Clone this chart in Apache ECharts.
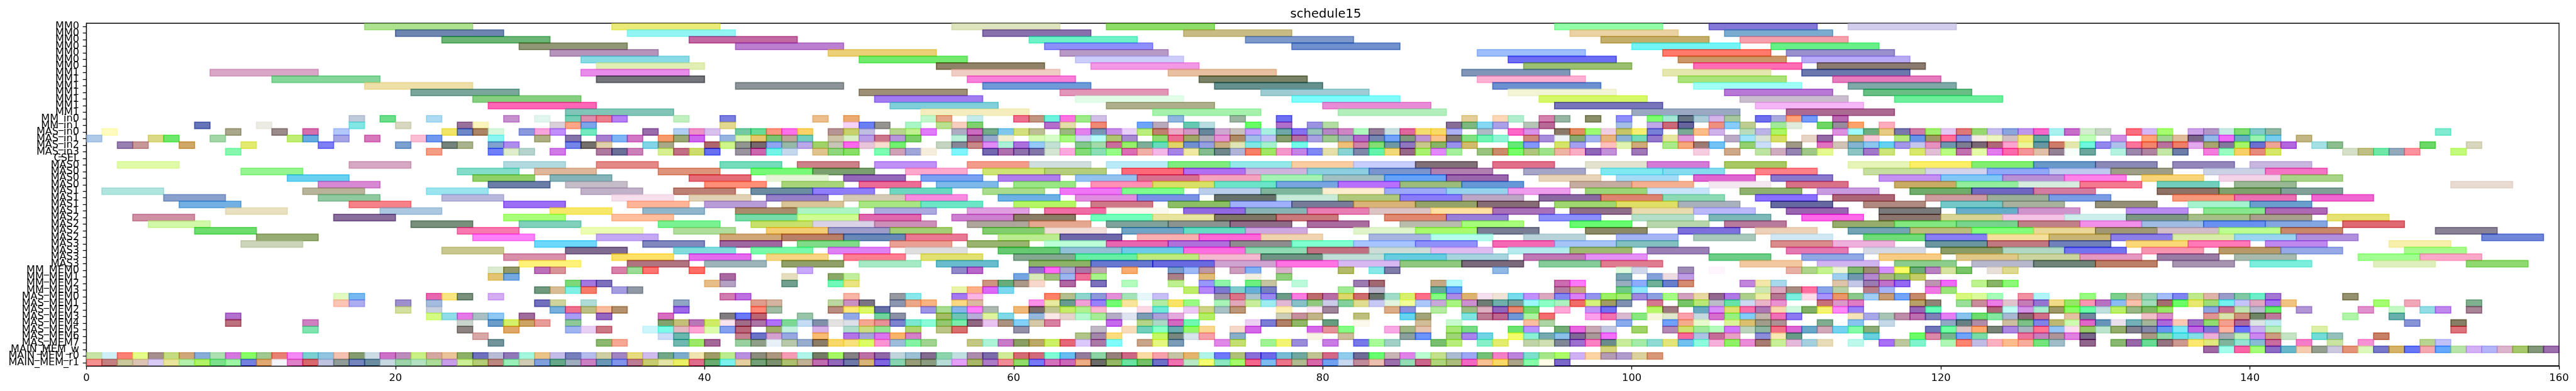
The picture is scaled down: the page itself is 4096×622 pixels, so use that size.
<!DOCTYPE html>
<html><head><meta charset="utf-8">
<style>html,body{margin:0;padding:0;background:#fff}#c{width:4096px;height:622px}</style>
<script src="https://cdn.jsdelivr.net/npm/echarts@6/dist/echarts.min.js"></script>
</head><body><div id="c"></div>
<script>
const chartTitle = 'schedule15';
const categories = ['MM0','MM0','MM0','MM0','MM0','MM0','MM0','MM1','MM1','MM1','MM1','MM1','MM1','MM1','MM_in0','MM_in1','MAS_in0','MAS_in1','MAS_in2','MAS_in3','CSEL','MAS0','MAS0','MAS0','MAS0','MAS1','MAS1','MAS1','MAS1','MAS2','MAS2','MAS2','MAS2','MAS3','MAS3','MAS3','MAS3','MM_MEM0','MM_MEM1','MM_MEM2','MM_MEM3','MAS_MEM0','MAS_MEM1','MAS_MEM2','MAS_MEM3','MAS_MEM4','MAS_MEM5','MAS_MEM6','MAS_MEM7','MAIN_MEM_w','MAIN_MEM_r0','MAIN_MEM_r1'];
const durations = [7,7,7,7,7,7,7,7,7,7,7,7,7,7,1,1,1,1,1,1,1,4,4,4,4,4,4,4,4,4,4,4,4,4,4,4,4,1,1,1,1,1,1,1,1,1,1,1,1,1,1,1];

const s00=[18,34,56,66,95,105,114];
const c00='AEE290 EAEA78 DDE4BE 8EDD68 90FFA8 8478D6 D2CDEA';
const s01=[20,35,58,71,96,106];
const c01='6F85B0 93F5F3 8770AB C8BC84 EBD2A2 7BABCF';
const s02=[23,39,61,75,98,107];
const c02='6BB577 C268A2 6EF2C8 7D99CC C4AE6C F5A0AB';
const s03=[28,42,62,78,100,109];
const c03='8F9775 BB80CF 8F8FFC 6F90CC 74F5F5 68F088';
const s04=[30,48,63,90,102,110];
const c04='B594BA EBD078 B79AC6 9DBDFB FF7A6A 9A90CE';
const s05=[32,50,64,92,103,111];
const c05='89DBE6 72EA6E CDCDFC 6E6EF5 CC9668 B8AAF5';
const s06=[33,55,65,93,104,112];
const c06='E0EEB4 8E8268 F298E5 9BBF70 FF6DB4 8A7A70';
const s07=[8,32,56,70,89,102,111];
const c07='D9A6C8 E98BE9 F0CDC4 E7C0A0 7F96B8 E5E8AE 6A78AE';
const s08=[12,33,57,72,90,103,113];
const c08='85D69A 75767C F780D9 7A8268 FFB0D2 ABE27A E47CBE';
const s09=[18,42,58,73,91,104,114];
const c09='EEDFA8 8D9497 6E9AD8 66908E 6C90D0 9FFFF6 7EA9A8';
const s10=[21,50,63,76,92,106,115];
const c10='7BA69C 9E9078 E196B8 9FCCD3 F3F3D6 B778D6 68BE84';
const s11=[25,51,64,78,94,107,117];
const c11='86CF80 A07CF0 E1FCE9 7EFBFB D6F865 C9BCCC 6CEE9A';
const s12=[26,52,66,80,95,108];
const c12='FF67B6 80CFDA AEAE8C E88CD6 7874BA F4B6F7';
const s13=[31,54,69,81,100,110];
const c13='80C4B6 F5EDBE A5F2AC B2EEBC 9AA8C2 AA6A92';
const s14=[17,19,22,27,29,31,32,33,34,38,41,47,49,54,55,57,60,61,62,63,64,65,70,74,77,89,91,92,94,95,97,99,101,102,103,104,105,106,108,109,110,111,113];
const c14='BFC9DA 6BDE8A ABDAF2 C690CE E0F5EE 78CDB5 DD8EAC EC7F8D B580F2 C0F0C0 7A7EDF EBBE8C EBAB70 C2F7CB E6A688 C4EBEC EE6E8E C19480 6DF2DE FE71E0 9CEA88 CFBFE6 8FB4DE 9BB5A0 6E6FF0 E2CE96 FDD7B6 B2EDCF D381AD 97B5A3 8A8F68 8E8EFA 7DFF70 A2E8D4 677585 ABCCD6 D4B4E8 A8C8A0 6F6FEE A9A9DE FFA27A 749AFA B860AE';
const s15=[7,11,17,20,24,25,30,31,32,41,49,50,51,53,55,56,57,62,63,65,68,69,71,72,75,77,79,80,88,89,90,91,93,94,99,101,102,103,105,106,107,109,110,112,113,114,116];
const c15='6474B8 ECEBE4 82E6E4 D8D7C0 99709A FAF4BC D8CFD8 FFA587 7BA4EA E2D890 F6D2F7 6A80F2 969490 AAF5C6 B8E08E F6CDBE 7ED070 B36ECB E3DEA8 F08874 6EA4FB B9A8BC 63C8B0 B8DDE0 66FF5A AE70C8 9A92E0 B3DDA2 876E96 7CB880 85D9F5 A9A0E6 B4C4B6 B76A96 A4BDE6 C0A8E8 CA6A78 5E5E9C EE9080 88CCFF BDCE90 A2E89A E0EBDC 6FD660 968C9C FFA36A FFADBE';
const s16=[1,9,12,14,16,23,24,25,26,28,29,30,32,36,38,39,40,42,43,44,45,46,48,49,50,52,53,54,56,57,58,59,60,61,63,64,65,66,67,68,69,70,71,72,73,74,75,76,77,78,79,80,81,82,83,84,85,86,87,88,90,92,93,95,96,97,98,99,100,101,103,104,105,107,108,109,113,114,115,116,117,118,119,120,121,122,123,124,125,126,127,128,129,130,132,133,134,136,137,138,139,140,141,152];
const c16='FFFBBE A9A78C 9A8C8A D570AC B2C7FC F0E566 6E88C8 AB8566 D6F7DC 8A99DE F7A3DC C08FFB 74E9C0 9A6CAC B0CDF2 EE90C8 D8C0EC 74CAA0 66DA96 FF9680 FE70EA FAD264 B79494 C8D06C C0BEE0 B5D68C C0F090 E07CF8 AEACC2 CB6CC0 73AA88 7EC8EE D4E080 BEBE94 9AB880 E280EC 7A94B4 C68CE6 E8D0F8 BCEE7C C08070 EAA8C6 D296C4 66869A CFA8D2 C8C0BC C49CFC A8F0E0 70A8AA 8670F0 98C4BE B387C4 CF84C4 AEF8BE 957C98 C9E0E0 E0609E F5DC70 FADA66 AEB0F5 ADBAC6 FF68C8 D890E8 8A7868 E28C5E 9CFB70 EECEE0 C6C668 F5EE74 7880D8 7CA898 FDBC88 D0B2EA B8DCBC BBB2E8 ACF558 DE90E0 A0FBFF 6EAE80 E6CC84 7878AC CC7CA6 A0F070 E4C6F2 E07878 98D870 C6BCEE 8AA4DE C096EC F558C8 A8F2F0 C86CCA D2EECC C8D6C6 FF6E7E D4B8F5 A5FF6E CCA2E8 B396C8 C8EAE4 7CDC70 80CACA 90B8A4 82EBD0';
const s17=[0,4,5,8,13,14,16,18,21,22,26,29,31,33,34,35,37,38,39,41,42,43,44,45,46,48,49,50,51,52,53,56,57,58,59,61,62,63,64,65,66,67,69,70,71,72,73,74,75,76,77,78,79,80,81,82,83,84,85,86,87,88,89,90,91,93,94,95,96,97,98,99,100,101,102,103,106,107,108,109,111,112,114,115,117,118,119,120,121,122,123,124,125,126,129,131,133,134,135,136,137,138,139,140,141,143];
const c17='AFC9E8 DBD986 6EE86A A4D7A8 C0ED74 68ADDF A6A6E4 D878BC FABDD4 7099EE 8AF5F3 AEAF82 8274A8 A67ED0 7DB4F6 D276C6 F69A6A 9AA874 CE66EE 96B4E0 D6F4B0 E6C86C 7CC472 BCA698 72CEBE CEC5A8 D8EEC4 BA9EE8 CC768C B896DC 7CCF68 B8F0D8 A06A98 96A8CC F0F0D0 D6FCB4 D6FCC8 A6FA80 D5D0F6 B8FCF8 AFC670 A78AD0 90DC70 EC6C92 A0A868 ACACB6 E590D4 AE8A64 A0BEE8 C0C0F5 889E6E B470A0 A8A0E0 9DC890 9DB0BC B268C8 7688B0 72A2FA 80987E C094D4 F8C48C 827A72 80E280 72F5B4 90F5D4 D08878 A88CDC EEF4F6 88AA70 A4B4EE E6B47C 8CB0D6 74DCB8 9478CC E6E6A0 E098DC BAAAC6 9FE4FB D8E4D6 D6DE64 E8D4C4 9468A4 BBB06A F6C8D8 B5EA78 6494E6 A09A66 FF6E9A 8A8EDC F4ECE6 ECF6BE D0C0C4 F5E878 62AAA4 C0FFB8 D08CE2 FFA27A A0D490 E0BC9C 7C6488 94B8E8 EE6CF6 68ACC0 98F2B0 78CCEC C2B684';
const s18=[2,3,6,10,15,20,23,24,26,27,31,32,33,36,37,40,41,42,43,44,45,46,47,48,49,50,51,52,55,56,57,58,59,60,61,62,64,65,66,67,68,69,70,71,72,73,74,75,76,78,81,82,83,84,85,86,87,88,89,92,93,95,96,98,99,100,102,103,104,105,107,108,110,112,113,114,115,116,117,118,119,120,121,122,123,124,125,126,127,128,129,130,131,132,133,134,135,136,137,138,139,140,141,142,144,145,151,154];
const c18='9880B0 C89898 D0A868 E2EA70 7E7EF5 7CA0D0 74847C AAB48C 80A0D0 AE8CEA 7486E8 76706C E0CFA8 82D4E6 A6A888 AE606E CEF68A 929692 76686E 8EA6F2 96B8A8 BAA8E8 A0D268 C6C4B4 FC68EC E6C6D8 F8DDD0 72F070 C4D4C0 868698 C88888 E08AF6 ABF2D8 AC70DC 96C8FC C2E0D4 84C88E A4DAAA CC6C9C 98F06A 7FAE98 64DCBC E0D468 7090CE 96A0E0 C8AD80 E0E6B8 80E8E4 A4F0CC 74FDE8 EEC07A CE84A8 82DE74 7098A4 9078C0 C8C88A 88B468 9A90EE D0BC6C 62E878 8296FC D4E468 A4A0F0 FFC0BC E2F4B2 CFAA78 ABEA88 F6A87C 9E7A74 72C2F5 94D070 CADEFC 9E9884 E070C0 D0C2B4 84B4D0 8AC6EE 64D0F0 A496E8 C4C6EE E690C0 6E96AC 7E7C90 7A6876 B06878 FBA4D0 ECF59A 6098A4 CE7C6A E4E6AC 70F6DC 9488EE AFC0EC FF7498 F2856C B8709C EE7E66 E4A8EC A8A670 84789C A6F660 6C70D0 EEA494 B468E0 A4E0E4 8CBE90 6CD868 D8D6BC';
const s19=[9,22,26,27,28,30,33,34,35,37,38,39,40,42,43,44,45,47,48,49,51,52,53,54,56,58,59,60,61,62,63,64,65,66,67,68,69,70,71,72,73,74,75,76,77,78,79,80,81,82,83,84,85,86,87,88,90,91,92,93,94,95,96,97,98,100,104,106,108,109,110,111,112,114,115,116,118,119,120,121,122,123,124,125,126,127,128,129,131,132,133,134,135,137,138,139,140,141,146,147,148,149,150,153];
const c19='88F8B0 F49C84 7080FC DEEECA B6D4CE D07AE8 AE7AA0 6C7098 CC80BA D6F090 C26E84 CEDC6E 6670F0 9A94A0 CC60AE 72F5E6 C4D8EE E0C490 90D880 88E068 7CFFB0 D0A0B8 A0A6D8 F6EEDC 7FF5FD 7468B0 B070B0 8E70AC 8276A8 D4E6D2 FFA8E0 84DC78 8CDEB6 96FF88 DC6CB4 F0B0A8 F4B8E8 A684E6 EFE8A0 84BC90 70888C B0B4D8 F88068 A2E660 F498CC C484E6 8088F5 E4E0A8 8AD4D6 8088AA 62F4AC F0D878 976888 A8F270 E288FE A4F09C 98C480 CC8C6C 78FF6A AEC67E A0E28C EEB4A4 FBAEC4 9066B8 C490DA A078B8 F6CCE0 CEA888 BEE4A2 D0ACC0 9484B4 A0C888 E4FA90 8EC4C4 A478C8 CCE47A D8E86C DFBED6 B8FC84 C070AC E4FCA8 E27CEE FF68AA F49498 E0C0A8 948294 F8FEFA 6CA69C B4F2E0 9C88AC B084A0 C4E6A6 6E7EA8 F47CDE 98FFC0 F8D068 E68A7C D6E660 D6E0C8 C0C084 72E8A8 92AABC FF929C C4FA7C';
const s20=[];
const c20='';
const s21=[2,17,27,33,41,46,51,57,61,66,70,74,78,82,86,91,97,101,106,114,118,122,126,130,135,140];
const c21='E0FAA8 D7A8C2 B0DAE0 E38A86 74DCBA CC8288 C090F6 F49C8C D0DEDE BAEAF5 80EC80 94E8E8 FACDA0 C8CEFC 827078 E0708C E2E2CE D27CD8 A8C860 E6F4B8 FCEE60 82EE70 6898C8 8A88B4 9488BA C8B6E0';
const s22=[10,24,29,37,43,47,53,58,62,67,71,75,79,83,87,93,98,102,108,115,119,123,127,131,137,141];
const c22='96F58E 84DDC8 DEB69A DE947A 78FA78 7AA070 FFA8CE CEE474 B6CE7C FF6878 B06EF0 CFB4DC 8CCEE0 7A94D0 B080B0 A5A5C8 80E8F0 84DCEE FF8088 C6DEA0 D2D2EC 90A8FA C0CAF0 9F9F88 CCD2E6 F274C2';
const s23=[13,25,30,39,44,49,54,59,64,68,72,76,80,84,88,94,99,104,109,116,120,124,128,133,138,142];
const c23='6AD0F0 90D068 84B4BA E46C78 E6F4D6 9468B8 7AA0F0 B07EEC 94C2F0 D87090 F5A4C0 A4F2B4 A0C0C4 66A2F8 9A64AC E8D4B8 A4DCF6 DE64D0 8A78CC C490F2 82C6F6 B890D6 FF80E8 F7D478 F2D2E6 A8D488';
const s24=[15,26,31,40,45,50,55,60,65,69,73,77,81,85,89,96,100,105,110,117,121,125,129,134,139,153];
const c24='D688D2 6A7EA8 C4BDC8 FF8E76 A8D47C EC6C96 7EB8E8 98E684 FF90B4 D8E066 6CE4C8 78A4E0 B870FC 9CBC7C 6498D8 C4ACA0 F4B090 F4E8F0 D87088 C8AC66 92EE9C D6ECDE F47890 72CEBC 98B894 E8DBD2';
const s25=[1,14,22,32,38,43,47,52,58,63,67,72,76,80,84,88,92,97,101,107,112,118,122,126,134,138,142];
const c25='B0E4DE B8B49A 9AE4F0 C0B0C8 BC8074 6C8CA2 8E7EFA 6CD8C0 A8DC8C F076F8 7CFF8C BACDEA 80B49C FEEED0 9CA8FA 98D2EC EE9CEC 9CD478 C8E4FA 90B270 C89AE0 70AC6C 7068C0 D47CA0 8E7264 7EA06C 80A098';
const s26=[5,15,23,34,39,44,49,53,59,64,68,73,77,81,85,89,94,98,102,108,113,119,123,127,135,139,144];
const c26='8AA0CC 90C8A0 B8B8DC F6DEEC E0D0B4 9480C6 D4CAB4 F88AE0 6CB0E4 E08AE0 7A90E4 66706A C8EAD8 B0C87C 8A7CF8 BCA6C6 8A68A0 DC8470 8CDAB4 8A70FE AC5E78 CC9CA0 9AAE9A 7A9CE4 F8987A EA70B4 F064D0';
const s27=[6,17,27,35,40,45,50,54,60,65,70,74,78,82,86,90,95,99,103,109,115,120,124,130,136,140];
const c27='72AFE2 F58288 9C6EF4 FFB498 B89CD8 D8C498 A8E684 6CE6C4 B4F664 CE7888 8CBE64 A0B0FA 787C98 D8B478 94A468 866C74 A0D670 DEDE68 A8B0BC 6068A0 B08A80 74C8C8 A8B09E 949078 A4F2CE 6A9ECC';
const s28=[9,19,30,36,42,46,51,57,62,66,71,75,79,83,87,91,96,100,104,110,116,121,125,132,137,141];
const c28='E8E0C0 ACC8E0 F8E86A 90B6CC A88C6C AEF4C4 ACA8E0 E09FE0 F06CA4 FAF8EC 9068E0 8AB4B4 E87EB4 DCC4C4 FFE0A0 A870B8 906E8A E8DCAE BCB8FC 9860B0 7A7A7A 68AEC8 D094CC B88CF0 88E68E AE68B4';
const s29=[3,16,27,34,42,46,50,56,60,65,69,73,77,84,88,94,100,105,111,116,120,124,128,132,136,140,145];
const c29='D090A4 8A6E9C AAFF7A FFBE9C 78DCA8 D0FC94 E068AC CE80D0 8A7C60 72FFBC E8E4A0 807668 CA7A7C E08870 9880D8 8C90FC B4E0CA 7CB8B8 FF68E8 8A766E D8D498 F4C4E4 CEEEEC 7E9684 A6BE88 A8A08C E6E274';
const s30=[4,21,28,37,43,47,51,57,61,66,70,74,79,85,89,96,101,106,113,117,121,125,129,133,137,141,146];
const c30='D0F8A8 78907C 80D0BC 7AF292 C8E06C DAD2E6 CC90B8 ACA69C E4A890 80A29C 8A9490 8E6C88 AA6C9E B8BCAC A8FC7C 68FA70 B8D6AC B87A9C 96AC6C 84E680 78D48C C08088 F090E8 A0BCE0 6890F0 84A6E0 E06A74';
const s31=[7,24,32,38,44,48,52,58,62,67,71,75,82,86,90,97,103,108,114,118,122,126,130,134,138,142,152];
const c31='6FDC6F F878B0 ECFCB0 B0DC9C F4CC74 9C9CC8 A4CE74 84CC70 F2DED8 70A4C4 66DCC4 D0A8E0 E0F4CC A8FA6C 7A7E94 8C8A66 7E70DC ECD0B8 74A4B4 BCBC7E 84FF7C EAD898 A09874 D2BCC8 BCFC90 C8866A 8A8296';
const s32=[11,25,33,41,45,49,53,59,63,68,72,76,83,87,93,99,104,109,115,119,123,127,131,135,139,143,155];
const c32='96AC72 FE80FA C4A8F4 D0A878 B88068 6888B8 E87894 BCEC90 6E68AA FAB0B0 FF68D8 F0D4B0 A8B4E0 B4FCEC B8D2DA A4B4F4 A8C8BC D0E8F4 70DC78 8A7EF4 F2E09C C8B474 8C80E8 D8EEA8 9AD4F0 B090DC 7086D8';
const s33=[10,29,36,41,46,52,57,62,66,70,74,78,82,86,91,95,99,109,113,119,123,127,132,136,141,149];
const c33='CCD4BA 6ED8FA 8088BE A068A0 80DC88 EAA094 98B470 BCFED8 E866B0 B070DC 8E8C8E 80FFD0 A8C4FF 9090FA F468B4 A6C4F6 84C0C0 DA8C8C EEB0DC 6A96A0 C27880 7080B8 FAD878 FF78B8 BE88EE F6F0AC';
const s34=[23,31,38,43,48,53,59,63,67,71,75,79,83,87,92,96,101,110,115,120,124,128,133,138,142,150];
const c34='C8C890 806C90 82DCDE 78FAAA E080F5 DEDEDE 60C870 92C0D4 6CCCE8 FF6EE0 90DAB4 C07080 CCDCD6 DEBCF0 B4ECEE A0B870 9A80B4 E478B0 D4D8E4 8C9C64 B0D8C4 7474F0 F894B0 B89A68 96A8E6 A6FB8C';
const s35=[27,34,39,44,49,54,60,64,68,72,76,80,84,88,93,97,105,111,116,121,125,129,134,139,147,151];
const c35='D890AA FDE060 E46AEE F6D684 FF7E92 E2E070 84A890 64EEA4 BEEA80 F4B8D0 709484 C0E0D8 68CCE0 A8D4E0 C078B4 E490F5 6CCC88 90A8E4 F8CC84 E0C888 CCD4A0 E498C0 9A7CA4 A8BAAE A0FF90 FCA8C8';
const s36=[28,35,40,45,50,55,61,65,69,73,77,81,85,89,94,98,107,112,117,122,126,130,135,140,148,154];
const c36='FFF27A B07480 9CB4BA 90A068 A4EAC4 68BCCC 8CB468 6878D0 6A6AE0 D0A4D0 FF74E2 D8B8F0 90C880 7A6A7C 84CC9A E07C90 F2C8A0 D0B4F0 8CCC8C B8B8CC 70847A BC8068 A694B0 7CEEDC E0F0BC 90D870';
const s37=[26,27,29,30,34,35,36,39,46,56,57,61,62,63,64,65,67,70,71,72,74,75,77,81,83,84,91,99,100,103,105,110,111,112,113,114,115,116,117,118,119,120,121,123,124];
const c37='DCEAD0 929868 BC70BA D89498 D880A8 9ADC96 FF7470 FF6E66 C8A8FC 9088C8 B866C8 9070CC FE68F4 AEA8D0 AC74A4 C2A8B0 F8AC70 7A9CC8 9CB8F5 BC98A4 CC9CBC 80B2F5 D8B0C8 B2BC68 88EAE8 807EA8 90B8E4 DEFADC CFD8EA 9E8CB4 FEF6FC E8B0A4 AED48C C4F390 ECF6D6 80B870 9A8C70 D490FC FCFC50 6CAC78 B880C0 D4E4A0 78C464 E8E0D8 DEDA90';
const s38=[26,27,41,45,48,49,60,61,62,63,64,65,70,72,75,77,99,101,102,103,113,114,115,116,117,118];
const c38='E2C472 74A8E0 A868A0 E4DEBE 8AA868 C0EE9C 74A4E2 D8EAB8 A0BE80 9CB6F0 EE7098 A8F488 AA8088 E0BC78 F2EEE2 90D07C 78A4B4 84A0D8 ECDCE2 BE9CE4 A0D0F0 7098AC B488CE A8B87C 94C470 C4CC68';
const s39=[31,32,33,40,41,45,48,49,58,59,60,61,63,65,67,70,72,73,75,76,78,82,83,87,88,95,96,99,100,101,102,103,107,108,109,113,114,115,116,117,119,120,122,123,124];
const c39='7CD878 A278DE 7C70BC E8BE88 B4A0C0 72A090 70F8B8 EAE480 CE9480 68AC7C AC9888 F8D8CC B060A0 7C70BC B4FBBE BEF090 9898FC 90F4A8 6CF080 C4C4A0 BCFADC 9C7CB0 A06870 C4A884 B0F8FC CC6CB0 FC78F8 98AEC0 8CACFC 70B098 6880CC D48C70 C084DC F2E6A8 A8D8EC E0C4A8 C4C8E8 9A7CB0 C070C8 9468F4 BC94B0 F068F8 BEF490 88B468 8CF878';
const s40=[29,30,31,32,34,35,56,57,58,59,71,72,73,74,75,76,81,83,87,88,95,96,99,100,108,109,110,111,112,113,115,116,119,120];
const c40='70987E D8BC94 7EF0E4 F47C68 A49CE0 9098A4 EAF4A8 FFB088 DC68F8 7CD8EE BEEE68 B488FC 7C78D0 80CCCC 60B0D8 7880C4 A0EA94 B8B4C8 68A89C 60A4FC B47CA0 C8A484 70CC84 90E4FA CCE8B0 DCA8C0 A88C80 FF70A0 88A4E8 B8D0A8 B88088 A4B4F4 F078E4 98E478';
const s41=[16,17,22,23,24,26,41,42,49,52,53,56,57,62,63,64,65,66,67,68,69,73,74,75,76,77,78,79,80,81,82,83,84,85,86,87,88,89,90,91,92,93,94,95,96,97,98,99,100,101,102,103,104,105,106,107,108,109,110,111,112,113,114,115,116,117,118,121,122,123,125,126,129,131,132,133,134,135,136,137,138,139,140,141,146];
const c41='E0FAC0 78B8F0 E868B0 FAE680 78907C D4ACF4 D07CB0 BE70E0 F8B4A4 969AA0 88E8EC A478F0 FAB4E4 FF8068 B4BE8C 8CD4CC 8C98D8 E490D8 A4E2B8 E6F8FA C8BEF6 A096AA DC7488 ACC4CC 9A88F0 6C9C88 FA7CE0 BC6C6C B86CA4 DCD86C CC6C6C 667068 A0DCC8 D8F06C FF7088 84FF84 AA8CE4 DCB470 F4E0EE F0E4D6 78DCEC C090FC DCA8C0 8288F0 D880F4 9494EE 9CF060 A4EA74 A088DC 8CA0E0 A4FC84 D4A0C0 E8D8A4 906890 B078E4 ACD08C ECEEA8 B47890 7CF0E0 FCDCE8 A894FC EA9666 8CC88C A0CEF8 C89C74 74A4FA C68A6C D8F880 DCFC9C A4FEB8 F090A0 B0F6F8 98FC80 7CD08C C8B8A0 98D0B8 A4BCF8 7E84F0 BEEA8C DEB4A8 9A9CC8 80C8A4 6EEEC8 A478D2 949070';
const s42=[16,17,20,22,29,30,32,38,43,44,48,49,50,52,53,54,56,57,61,62,63,64,65,66,67,69,70,71,73,74,75,76,77,78,79,80,81,82,83,84,85,86,87,88,89,90,91,92,93,94,95,96,97,98,99,101,103,104,105,106,107,108,109,112,113,114,118,119,121,122,123,124,125,126,127,128,129,130,131,132,133,134,135,136,137,138,139,140,141,142,148,150,154];
const c42='FBC4B4 ACACF0 9E90CC A4BCE0 7270BC CED49C AEDDD8 90A4C4 DE9C8C D4B4A0 BCD6A0 C890C0 7A7484 8C94B0 EBA888 F8B480 FCD880 DCB8A0 FC90E8 E8EAA0 689C90 F0A0D4 9680FC 74FB74 F8E49C B0ECA4 F8E468 98FC84 A8F4B8 E0A8B8 C8EE9C 9CECF0 E0B8D4 88C0C8 90C880 CCCCE8 84D09C E0DC90 C8C8F4 E0F4E0 F0FE98 ACC8F8 C8A8D8 A8F480 CC90D0 6E7C74 70B0AC 7CA09C 9CF8F8 8CFFC4 ABF2C0 F06C64 D4F27C A09C60 8090B0 D47890 78C468 B8E878 BCBCC8 66E4A8 CCD8F0 EAB4C8 E890D0 C87078 DC98C8 E07CC4 B8A068 908478 98E098 C88C9C EC7CE8 E0C4CC C47CB4 9474D0 F0DC88 94E860 FC94B4 B870C0 8CBCF4 FCC0AC A0DCB8 A46C6C 6CFC60 E8E870 A0DC78 74F0F0 C4C4FC E0A8C0 A470F0 F0C480 A4FC70 F0A8B8 80B090';
const s43=[20,22,30,31,32,33,34,38,43,44,48,49,50,51,54,55,56,57,58,60,61,62,63,64,65,68,69,71,72,73,74,77,79,80,84,85,87,89,90,91,92,93,95,97,98,101,102,104,105,106,107,108,109,110,111,112,113,114,118,119,123,124,125,126,127,128,129,130,131,132,133,134,137,138,139,140,141,143,147,149,151,152,154];
const c43='D4E0A0 C8D0E0 78B0DC EE7090 BCBE84 F8BC9C B49270 9C68E8 FF8878 A0BCA4 B88C80 FCE878 DCF868 6870A8 9C94E4 A8DC90 88B4EC FE80FA ACB8B0 F0B878 7C6C6C C0C490 C4EC68 B0F090 FCB8D0 FAD8E4 70E8D8 ECC8F4 CCD484 A8C0C4 BC9878 FDEEB4 F8E4F4 A08498 DCAC88 8C90DC B4ECA0 9CBC84 DCB0C0 9060BC E88870 78D870 FFA8D8 C094F8 7070F0 B8F868 A07880 68A8C0 D890F8 DEE070 F870A8 AC78B4 F8D8B0 D0F8E0 80B068 F4F470 FF88F8 9C84F8 9460B4 68FFB8 AC6478 C0FCF4 D494E8 A8ECD0 9C9868 8CFC5C 68FCA4 C0E0E0 BCF060 98B888 80B868 98E858 8CA4E0 C87094 C0E4B0 B8B8CC 68EC6C B094D4 E090CC C4F8C4 94DCE4 C088EC A88498';
const s44=[9,22,23,24,25,26,28,31,33,37,41,42,43,46,49,51,52,55,56,57,58,59,61,62,63,64,65,66,67,68,69,70,72,77,78,79,82,85,86,89,90,91,92,93,94,97,98,99,100,101,102,103,104,105,106,107,108,109,110,114,115,116,117,118,119,120,121,122,123,124,125,126,128,129,133,134,137,138,139,140,141,146,149];
const c44='B070CC D4FC84 90DCE8 E678E8 A8C0C4 90C8F4 A06C9C A89CF4 9468C0 D86CC0 807C80 6A78FC BC6474 98C4A8 90A8E8 70D49C 8C90A4 A4BC64 70C4B4 B8ACD8 E0F4A0 80D8E8 94B8DC F8E8E8 E4D4CC B4F8D0 A8EC98 B4ACC4 E0E4F0 7C9CB4 ACA0D8 E4AADC B4F060 CCCEB8 C4909C C0B488 BCC07C 64D4F0 A4A47C 80E4E0 BC7C94 BC6490 7098D4 ACF4A0 F26C70 FCA0EC F070B0 D8B8D0 88E880 F6F6DC E0E8CC FCA0AC C4D8E0 D470CC 98F080 84CCF8 C4B4AC F070B8 8C78F0 F4E4B8 A8A8E8 A8C4B4 BC8CA8 BC70B0 8080B8 E480F4 88C4EC 6CDC6C 84E8A0 A8B8D0 8C6874 D07088 E4C0A0 7088A0 F0C0C8 DC8CC8 E09494 D8E4AC D09080 708464 BC7898 B0F4A8 68B0AC';
const s45=[9,14,24,26,27,28,29,31,37,38,39,40,41,42,43,44,45,46,47,48,49,50,51,52,53,54,55,56,57,58,59,60,61,62,66,68,69,70,71,75,76,77,78,80,82,86,88,93,94,99,102,103,104,106,107,108,109,112,114,116,120,121,122,124,125,126,127,128,129,130,131,132,133,134,135,136,137,138,139,140,141,150,153];
const c45='BC7080 CE80C0 C8D4CC 6C9CC8 D4F068 CCA464 E89C98 8CC898 82A46C C4C07C B878B8 D0EC58 F8E4EE A06C88 AC74A4 B070FC 7CD894 C4DCF4 8090A8 E4E2E0 DCE0E8 F4A890 E89098 7C84D0 7CE8D0 8CFBD8 94C870 7CECAC 906880 EAC4F0 AC9480 80D0F8 D4C8A8 D880A0 C468EC B4D488 ACD8C8 D468C0 70F8B0 ECD0F4 7C7CD4 B08068 90B868 689C80 FBF8EC D0BC98 C8FAD0 FCBCA0 ACD4A4 88ACEC 70A0FC F4AC8C E8FACC DCF498 DCC070 A09C8C AC9094 80AC90 88C4F0 C4D8E8 90A8C4 648084 B08CA8 CCBCA0 7CC088 8084E8 BCB874 CCFCB0 E064C8 6094B8 E8E0EC 74B0B8 A4B498 AC68D8 FCC8B4 A070C8 90DC70 F4A090 AC6898 DCE4E4 BCECF0 8894D8 887E60';
const s46=[14,24,27,31,32,33,36,37,38,39,40,41,42,44,45,47,49,50,51,53,55,56,60,65,67,68,69,70,71,72,74,75,79,80,81,84,85,86,88,89,92,93,95,96,97,98,100,102,103,104,105,106,107,108,109,110,111,112,113,114,115,119,120,121,122,123,124,125,126,127,128,129,130,131,132,133,134,135,136,137,138,139,140,141,144,153];
const c46='80E4B0 8C8480 E0A868 A0B4F0 E8D0F4 CC7884 CCF6FC 7CFBE8 E4B8C0 FCA4D4 DCFCAC 84A0EE B86878 A0AE68 C4F0E0 D8B0E8 B0DCCC CCDC80 94E494 B0D470 BCC488 D87070 9490A8 C0B8C4 F8DCB8 70D0BC 8CFFC8 68ACB0 94F864 F8D890 F4D8C8 D468E8 D468E8 E49498 84FC84 F8A8E4 A0B884 E4C4B0 A8E878 78DC84 6CE470 B894FC 70AC74 E864E0 C8A8B4 C4C8E0 A0D468 B488B4 D0E070 A0E89C B4FABC D078F8 BCD4BC 8CB4A0 F07088 DC64D4 68A8C8 D0A8B8 74D4F0 84FCA8 8CAC78 7074B8 70FFA0 DCC4C4 FFA870 788478 AC88E0 A8B4C0 FF7490 94C4F4 FCDCF0 94C868 BCE4CC 94AC6C 848090 8488A8 6898F0 80E8F4 C068E4 8078D8 FCB4A0 6C74F8 C8B0F0 B8ECB8 DCF0A8 DC747C';
const s47=[25,37,38,42,43,44,45,47,49,50,51,52,53,64,65,66,69,70,71,72,74,79,81,85,86,88,89,90,92,93,94,95,96,97,98,103,104,105,106,108,109,110,115,118,119,120,121,122,125,126,127,128,129,133,134,135,136,137,138,139,140,141,142,144,145,148];
const c47='D8A8A8 CCDCF8 68B8B0 C48090 6C74C8 D4A0D0 98A8E0 FABC70 B474E8 A4A4D8 DC74F0 F8B468 D480C8 B0C488 A488AC FCDC7C C4F860 788880 D8E4EC F8A0A8 88AEC8 F8F4E4 CCBC9C 8CA0A0 6C94FC A0D478 A884EC 70D4E4 F4FC6C 8CF0D4 74AAB0 8CC0E8 806898 A89898 F470FC F8689C ACC4E4 C46C98 E8A0C4 8C8CD8 F8E8B4 689C88 68D0DC 6CFC60 DC88A8 78B490 70A4FC 78DCA4 EC749C C480BC AC9498 E080E0 786088 A89884 8CDCA8 68E4E8 84E0E4 ECB0D8 A4ACB4 C0F0B8 CC88F0 CC9C80 C4E4C4 74DCD8 94C0BC C88058';
const s48=[26,33,34,38,39,40,42,43,44,45,46,47,48,49,50,51,52,53,54,57,58,59,60,61,62,63,64,65,66,68,69,70,73,74,76,77,78,80,82,83,84,87,88,90,91,93,94,95,96,97,98,99,100,101,102,103,104,105,106,107,108,109,110,111,112,114,116,117,118,120,121,122,123,124,125,126,127,129,131,132,133,134,135,136,137,138,139,140,141,143,145,147,151,152];
const c48='74949C 8CB870 F4A894 70B8B0 9CE868 A46898 98D0A0 90A088 E8F0F8 B8C8A8 98ACD0 8C7C68 F8D868 F8E07C DCFC60 FC94D4 9CBCDC 84F4A4 A0D490 C4C884 ACF4D8 C87CC8 8CA064 BCA868 CCF060 E46878 DCC8FC AC78A8 80FCFC C8A488 E4F880 7C9CB8 E088E8 C4E070 A0F494 F4F474 9C8CDC C87CE4 7878E8 A8FC98 A0D0C8 78C070 B8EC7C 88F0C8 E4EC70 C0D4A8 D0E0B4 808898 9C70CC FC80C4 6C8C8C C8EC9C A4ECA8 90DCD4 E4E47C 70C0F0 8CFCDC F4B0D8 90F060 E88CD8 A87C70 C8F098 E4B8D8 A4D0E0 E8DCB8 BCF8EC A870F4 BCC89C 80F4CC B0F6B4 FF8470 C0BCE4 FCB0C0 FCBC8C F8AC9C 74E47C A0BCC8 90648C 88B870 9868A8 68DC94 947480 CC9890 FCE870 E0E880 80B49C 94E4D4 88BCD4 C86CA0 F47CC8 C8E4A0 F890D4 B8D490 C0C0FC';
const s49=[98,137,138,139,140,141,142,143,144,145,146,147,148,149,150,151,152,153,154,155,156,157,158,159];
const c49='D4D47C A068A4 A4FCEC F864A8 A4FC78 8C6CC4 68B8CC F4CCB0 94A090 CCC8E0 E49478 DCF8BC 7878C8 D4B468 6478F4 F4A8B0 64A8FC B8E4A8 D4B0F4 B4B4F8 DCB4CC A8C86C 84987C 9C70AC';
const s50=[0,1,2,3,4,5,6,7,8,9,10,11,12,13,14,15,16,17,18,19,20,21,22,23,24,25,26,27,28,29,30,31,32,33,34,35,36,37,38,39,40,41,42,43,44,45,46,47,48,49,50,51,52,53,54,55,56,57,58,59,60,61,62,63,64,65,66,67,68,69,70,71,72,73,74,75,76,77,78,79,80,81,82,83,84,85,86,87,88,89,90,91,92,93,94,95,96,97,98,99,100,101];
const c50='C8E4A4 D0F0F8 FF8074 E4FC88 A68E8E C4DC80 CEA878 88ACD8 ACE0B0 D478E0 88FE60 A0C890 E88074 F488F4 7CD0D0 90C4E0 F4C0B0 849C70 CCDCE4 CC70C8 BC8CBC C8F084 D4A8A0 E8C498 8CB068 7070BC B8BCD4 9078B8 A4F6DC E8C488 C4BCE8 7880BC B4BCEC CECEA4 A084C4 E6DC7C D0BCEC 70A888 7CACCC F0E4B0 A09C68 BCEC90 B890E0 8C8C7C AC9880 F49CB4 B0F4E8 747C60 A4F860 848084 BC70A4 9068A8 C0D4DC 9CC0D4 846C90 8CD4AC C0E0E0 AC8CAC 7C6CAC D0EC98 D46C74 D06C7C 80FCD4 68BCF0 947C9C 8CD4A4 98807C CC6884 F8DCA4 F8A0AC C4C4A4 E4B46C B0F4E8 7078FC B0C078 8870D8 6C68E8 78BCD4 70A8A0 C0C494 D46888 90CCEC 706C98 68FC70 C8B4B4 E084E8 B8FCD0 C4E08C ACBCD0 9CA8F4 74C078 F480C8 BC84DC 7CE0CC A4E688 ACFC68 D0B0F4 FCD4A4 B49CB4 B09CCC DCD09C D89878';
const s51=[0,1,2,3,4,5,6,7,8,9,10,11,12,13,14,15,16,17,18,19,20,21,22,23,24,25,26,27,28,29,30,31,32,33,34,35,36,37,38,39,40,41,42,43,44,45,46,47,48,49,50,51,52,53,54,55,56,57,58,59,60,61,62,63,64,65,66,67,68,69,70,71,72,73,74,75,76,77,78,79,80,81,82,83,84,85,86,87,88,89,90,91,92,93,94,95];
const c51='F49090 C48080 C8C89C DCC4B4 D8CCF4 E8E49C B4F0AC B0F464 7CE08C 9CF6A4 7480E0 E0A870 F4F4FC E080C8 D8686C C0C4E0 909C98 7484BC 6C8CA0 C8D8E0 9CD4A8 B4E0C4 ACDC98 C89CE8 CCEE94 B4CC74 BC8880 98F0B8 D0CCB4 80A0DC 64A888 A0ACC0 CC80C4 6C98B8 8094EC BC7C94 C8CC70 E4E4A4 ECF060 E06C8C 68AC70 7CF0EC E4D0A0 74A078 7C9070 ACC070 C0B094 C06CB0 9468B8 7078A8 D8B478 8060E0 88D4B0 989C78 8C9C80 B8DCD8 E4A0F8 A8B868 AC7CC8 F08C98 90DC68 7878FC D470BC CC68B8 ECAC84 6C6C68 94B860 68E4A0 74C060 6C70C8 F070B0 B8E8C4 F4FC70 8CE8C0 A4FC6C F4608C 7CBCF0 EC7488 B0BC90 D860A8 70A0F0 C8D8F0 C08C9C ECC0B0 9C70AC 94DCB4 CC5C8C B0D47C ACBC7C F468C4 F8C094 FCD860 ACA488 84FCA8 FEFEE8 7C68C8';

const rowStarts=[s00,s01,s02,s03,s04,s05,s06,s07,s08,s09,s10,s11,s12,s13,s14,s15,s16,s17,s18,s19,s20,s21,s22,s23,s24,s25,s26,s27,s28,s29,s30,s31,s32,s33,s34,s35,s36,s37,s38,s39,s40,s41,s42,s43,s44,s45,s46,s47,s48,s49,s50,s51];
const rowColors=[c00,c01,c02,c03,c04,c05,c06,c07,c08,c09,c10,c11,c12,c13,c14,c15,c16,c17,c18,c19,c20,c21,c22,c23,c24,c25,c26,c27,c28,c29,c30,c31,c32,c33,c34,c35,c36,c37,c38,c39,c40,c41,c42,c43,c44,c45,c46,c47,c48,c49,c50,c51];

const ALPHA=0.6;
function baseColor(hex){
  const n=parseInt(hex,16),ch=[n>>16&255,n>>8&255,n&255];
  const o=ch.map(v=>Math.max(0,Math.min(255,Math.round((v-255*(1-ALPHA))/ALPHA))));
  return 'rgb('+o.join(',')+')';
}
const bars=[];
rowStarts.forEach((list,row)=>{
  const cols=rowColors[row].split(' ');
  list.forEach((st,i)=>bars.push([st,row,durations[row],baseColor(cols[i]||'A0A0A0')]));
});
const chart=echarts.init(document.getElementById('c'),null,{renderer:'canvas'});
const black={color:'#000',width:1.3};
chart.setOption({
  animation:false,
  backgroundColor:'#fff',
  title:{text:chartTitle,left:2103,top:8,textAlign:'center',textStyle:{fontFamily:'DejaVu Sans',fontSize:19.66,fontWeight:'normal',color:'#000'}},
  grid:{left:137.4,right:27,top:37,bottom:40,show:true,borderColor:'#000',borderWidth:1.3,backgroundColor:'transparent',containLabel:false},
  xAxis:{type:'value',min:0,max:160,interval:20,splitLine:{show:false},axisLine:{show:true,lineStyle:black},axisTick:{show:true,length:5.7,lineStyle:black},axisLabel:{show:true,fontFamily:'DejaVu Sans',fontSize:16.4,color:'#000',margin:11.4,hideOverlap:false}},
  yAxis:{type:'category',inverse:true,data:categories,boundaryGap:true,splitLine:{show:false},axisLine:{show:true,lineStyle:black},axisTick:{show:true,alignWithLabel:true,interval:0,length:5.7,lineStyle:black},axisLabel:{show:true,interval:0,fontFamily:'DejaVu Sans',fontSize:16.1,color:'#000',margin:11.4,hideOverlap:false}},
  series:[{type:'custom',clip:true,data:bars,encode:{x:0,y:1},silent:true,
    renderItem:function(params,api){
      const p=api.coord([api.value(0),api.value(1)]);
      const w=api.size([api.value(2),0])[0];
      const h=api.size([0,1])[1];
      const col=bars[params.dataIndex][3];
      return {type:'rect',shape:{x:p[0],y:p[1]-h/2,width:w,height:h},style:{fill:col,stroke:col,lineWidth:1.64,opacity:ALPHA}};
    }}]
});
</script></body></html>
